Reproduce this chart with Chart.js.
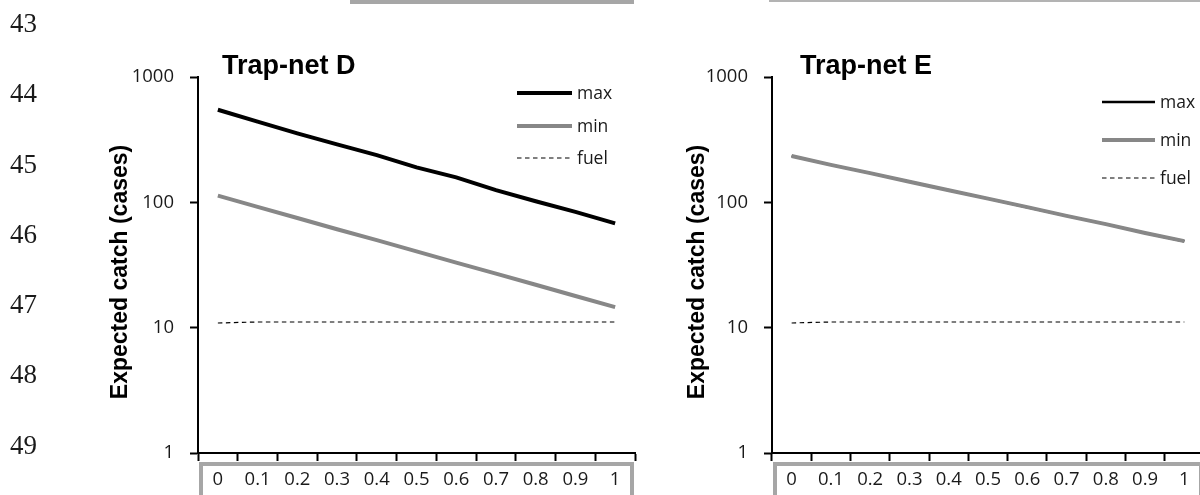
<!DOCTYPE html>
<html>
<head>
<meta charset="utf-8">
<script src="https://cdn.jsdelivr.net/npm/chart.js@4.4.1/dist/chart.umd.min.js"></script>
<style>
  html, body { margin: 0; padding: 0; background: #fff; }
  #page { position: relative; width: 1200px; height: 495px; overflow: hidden; background: #fff; }
  .lineno { position: absolute; left: 10px; font-family: "Liberation Serif", serif; font-size: 27px; line-height: 27px; color: #1a1a1a; }
  .rule { position: absolute; top: 0; }
  canvas { position: absolute; top: 0; }
</style>
</head>
<body>
<div id="page">
  <div class="rule" style="left:350px;width:284px;height:4px;background:#a6a6a6;"></div>
  <div class="rule" style="left:769px;width:431px;height:2px;background:#b3b3b3;"></div>
  <canvas id="chartD" width="650" height="495" style="left:0;"></canvas>
  <canvas id="chartE" width="600" height="495" style="left:650px;"></canvas>
</div>
<script>
// Margin line numbers of the page
const lineNumbers = [43, 44, 45, 46, 47, 48, 49];
const lineNumberCenters = [24, 94, 165, 235, 305, 375, 446];

// Shared axes
const xLabels = ['0', '0.1', '0.2', '0.3', '0.4', '0.5', '0.6', '0.7', '0.8', '0.9', '1'];
const yTicks = [1, 10, 100, 1000];
const seriesNames = ['max', 'min', 'fuel'];

// Trap-net D: expected catch (cases)
const maxD  = [548, 440, 355, 290, 238, 190, 158, 125, 102, 84, 68];
const minD  = [113, 92, 75, 61, 50, 40.6, 33, 27, 22, 17.9, 14.6];
const fuelD = [10.9, 11.1, 11.1, 11.1, 11.1, 11.1, 11.1, 11.1, 11.1, 11.1, 11.1];

// Trap-net E: expected catch (cases)
const maxE  = [234, 199, 171, 146, 125, 107, 91.5, 78, 67, 57, 49];
const minE  = [234, 199, 171, 146, 125, 107, 91.5, 78, 67, 57, 49];
const fuelE = [10.9, 11.1, 11.1, 11.1, 11.1, 11.1, 11.1, 11.1, 11.1, 11.1, 11.1];

const yTitle = 'Expected catch (cases)';

const page = document.getElementById('page');
lineNumbers.forEach((n, i) => {
  const d = document.createElement('div');
  d.className = 'lineno';
  d.textContent = String(n);
  d.style.top = (lineNumberCenters[i] - 14) + 'px';
  page.appendChild(d);
});

// Heading, rotated axis title, legend and the boxed tick-label strip
const panelDecor = {
  id: 'panelDecor',
  afterDraw(chart, args, o) {
    const ctx = chart.ctx;
    const area = chart.chartArea;
    ctx.save();

    ctx.strokeStyle = '#a6a6a6';
    ctx.lineWidth = 4;
    ctx.strokeRect(area.left + 3, area.bottom + 11, area.right - area.left - 6, 80);

    ctx.fillStyle = '#000';
    ctx.font = 'bold 27px "Liberation Sans", Arial, sans-serif';
    ctx.textAlign = 'left';
    ctx.textBaseline = 'alphabetic';
    ctx.fillText(o.heading, o.headingX, o.headingY);

    ctx.save();
    ctx.translate(o.yTitleX, o.yTitleY);
    ctx.rotate(-Math.PI / 2);
    ctx.font = 'bold 23px "Liberation Sans", Arial, sans-serif';
    ctx.textAlign = 'center';
    ctx.textBaseline = 'middle';
    ctx.fillText(o.yTitle, 0, 0);
    ctx.restore();

    chart.data.datasets.forEach((ds, i) => {
      const y = o.legendY[i];
      ctx.strokeStyle = ds.borderColor;
      ctx.lineWidth = ds.borderWidth;
      ctx.setLineDash(ds.borderDash || []);
      ctx.beginPath();
      ctx.moveTo(o.legendX, y);
      ctx.lineTo(o.legendX + o.legendLen, y);
      ctx.stroke();
      ctx.setLineDash([]);
      ctx.fillStyle = '#1a1a1a';
      ctx.font = '17.5px "Open Sans", sans-serif';
      ctx.textAlign = 'left';
      ctx.textBaseline = 'middle';
      ctx.fillText(ds.label, o.legendX + o.legendLen + 5, y + 1);
    });
    ctx.restore();
  }
};

function makePanel(id, series, deco, axisWidth, padRight, maxWidth) {
  const tickFont = { family: '"Open Sans", sans-serif', size: 18.5 };
  return new Chart(document.getElementById(id), {
    type: 'line',
    data: {
      labels: xLabels,
      datasets: [
        { label: seriesNames[0], data: series[0], borderColor: '#000000', borderWidth: maxWidth, order: 1 },
        { label: seriesNames[1], data: series[1], borderColor: '#878787', borderWidth: 4, order: 0 },
        { label: seriesNames[2], data: series[2], borderColor: '#000000', borderWidth: 1.2, borderDash: [4.5, 3.5], order: 2 }
      ]
    },
    options: {
      responsive: false,
      animation: false,
      devicePixelRatio: 1,
      layout: { padding: { top: 77, right: padRight, left: 0, bottom: 0 } },
      elements: { point: { radius: 0 }, line: { tension: 0, fill: false } },
      plugins: { legend: { display: false }, tooltip: { enabled: false }, title: { display: false }, panelDecor: deco },
      scales: {
        x: {
          type: 'category',
          offset: true,
          grid: { offset: true, drawOnChartArea: false, drawTicks: true, tickLength: 8, tickWidth: 2, tickColor: '#000' },
          border: { display: true, color: '#000', width: 2 },
          ticks: { font: tickFont, color: '#1a1a1a', padding: 8, maxRotation: 0, autoSkip: false },
          afterFit(s) { s.height = 42; }
        },
        y: {
          type: 'logarithmic',
          min: 1,
          max: 1000,
          grid: { drawOnChartArea: false, drawTicks: true, tickLength: 8, tickWidth: 2, tickColor: '#000' },
          border: { display: true, color: '#000', width: 2 },
          ticks: { font: tickFont, color: '#1a1a1a', padding: 16, callback: (v) => String(v) },
          afterBuildTicks(s) { s.ticks = yTicks.map(v => ({ value: v })); },
          afterFit(s) { s.width = axisWidth; }
        }
      }
    },
    plugins: [panelDecor]
  });
}

makePanel('chartD', [maxD, minD, fuelD], {
  heading: 'Trap-net D', headingX: 222, headingY: 74,
  yTitle: yTitle, yTitleX: 121, yTitleY: 272,
  legendX: 517, legendLen: 55, legendY: [93, 126, 158]
}, 198, 15, 4);

makePanel('chartE', [maxE, minE, fuelE], {
  heading: 'Trap-net E', headingX: 150, headingY: 74,
  yTitle: yTitle, yTitleX: 48, yTitleY: 272,
  legendX: 452, legendLen: 53, legendY: [102, 140, 178]
}, 122, 46, 2.5);
</script>
</body>
</html>
